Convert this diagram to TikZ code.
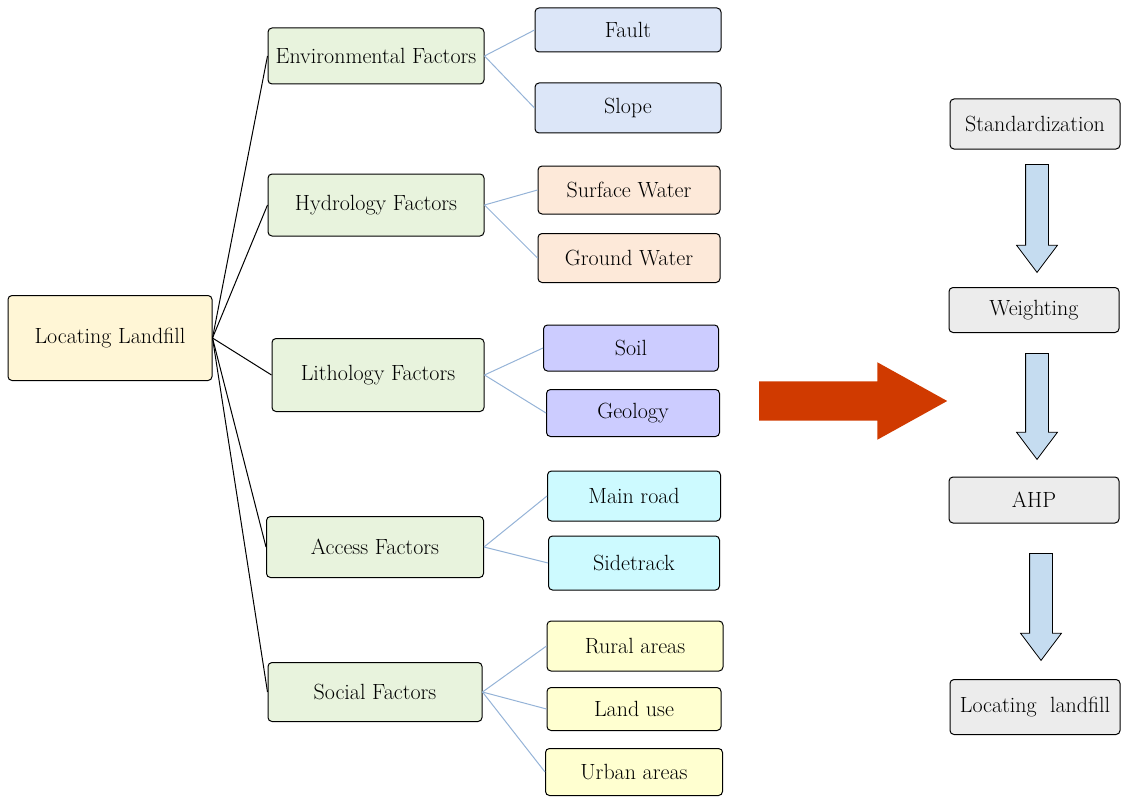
\documentclass[tikz,border=0pt]{standalone}
\usepackage{tikz}
\usetikzlibrary{shapes.arrows}
\definecolor{rootfill}{RGB}{255,246,214}
\definecolor{catfill}{RGB}{232,243,221}
\definecolor{faultfill}{RGB}{220,230,248}
\definecolor{waterfill}{RGB}{253,233,217}
\definecolor{soilfill}{RGB}{204,204,255}
\definecolor{roadfill}{RGB}{205,250,255}
\definecolor{socialfill}{RGB}{255,255,208}
\definecolor{stepfill}{RGB}{236,236,236}
\definecolor{linkblue}{RGB}{149,179,215}
\definecolor{arrowblue}{RGB}{197,220,240}
\definecolor{bigred}{RGB}{208,58,0}
\tikzset{
	box/.style={draw,rounded corners=4pt,line width=1pt,inner sep=0pt,font=\fontsize{22}{26}\selectfont},
	rootbox/.style={box,fill=rootfill,minimum width=204,minimum height=85},
	catbox/.style={box,fill=catfill,minimum width=216},
	leafbox/.style={box,minimum width=182,minimum height=48},
	stepbox/.style={box,fill=stepfill,minimum width=170},
	flowarrow/.style={single arrow,draw,fill=arrowblue,line width=0.8pt,rotate=-90,anchor=tail,inner xsep=0pt,inner ysep=11pt,single arrow head extend=9pt,single arrow tip angle=74},
}
\begin{document}
\begin{tikzpicture}[x=1pt,y=-1pt]
	\useasboundingbox (0,0) rectangle (1121,797);
	\node[rootbox] (root) at (110,338) {Locating Landfill};

	\node[catbox,minimum height=56] (env) at (376,56) {Environmental Factors};
	\node[catbox,minimum height=62] (hyd) at (376,205) {Hydrology Factors};
	\node[catbox,minimum height=73,minimum width=212] (lit) at (378,375) {Lithology Factors};
	\node[catbox,minimum height=61,minimum width=217] (acc) at (375,547) {Access Factors};
	\node[catbox,minimum height=59,minimum width=214] (soc) at (375,692) {Social Factors};

	\node[leafbox,fill=faultfill,minimum width=186,minimum height=44] (fault) at (628,30) {Fault};
	\node[leafbox,fill=faultfill,minimum width=186,minimum height=50] (slope) at (628,108) {Slope};
	\node[leafbox,fill=waterfill,minimum height=48] (surf) at (629,190) {Surface Water};
	\node[leafbox,fill=waterfill,minimum height=49] (ground) at (629,258) {Ground Water};
	\node[leafbox,fill=soilfill,minimum width=175,minimum height=46] (soil) at (631,348) {Soil};
	\node[leafbox,fill=soilfill,minimum width=173,minimum height=47] (geo) at (633,413) {Geology};
	\node[leafbox,fill=roadfill,minimum width=173,minimum height=50] (main) at (634,496) {Main road};
	\node[leafbox,fill=roadfill,minimum width=171,minimum height=54] (side) at (634,563) {Sidetrack};
	\node[leafbox,fill=socialfill,minimum width=176,minimum height=50] (rural) at (635,646) {Rural areas};
	\node[leafbox,fill=socialfill,minimum width=174,minimum height=43] (land) at (634,709) {Land use};
	\node[leafbox,fill=socialfill,minimum width=177,minimum height=47] (urban) at (634,772) {Urban areas};

	\foreach \c in {env,hyd,lit,acc,soc}
		\draw[line width=1pt] (root.east) -- (\c.west);
	\foreach \c/\l in {env/fault,env/slope,hyd/surf,hyd/ground,lit/soil,lit/geo,acc/main,acc/side,soc/rural,soc/land,soc/urban}
		\draw[linkblue,line width=1pt] (\c.east) -- (\l.west);

	\node[single arrow,fill=bigred,anchor=tail,inner xsep=0pt,inner ysep=19.5pt,single arrow head extend=19pt,single arrow tip angle=58,minimum height=188] (go) at (759,401) {};

	\node[stepbox,minimum height=50] (std) at (1035,124) {Standardization};
	\node[stepbox,minimum height=45] (wgt) at (1034,310) {Weighting};
	\node[stepbox,minimum height=46] (ahp) at (1034,500) {AHP};
	\node[stepbox,minimum height=55] (loc) at (1035,707) {Locating~~landfill};

	\node[flowarrow,minimum height=108] (a1) at (1037,164) {};
	\node[flowarrow,minimum height=106] (a2) at (1037,353) {};
	\node[flowarrow,minimum height=107] (a3) at (1041,553) {};
\end{tikzpicture}
\end{document}
